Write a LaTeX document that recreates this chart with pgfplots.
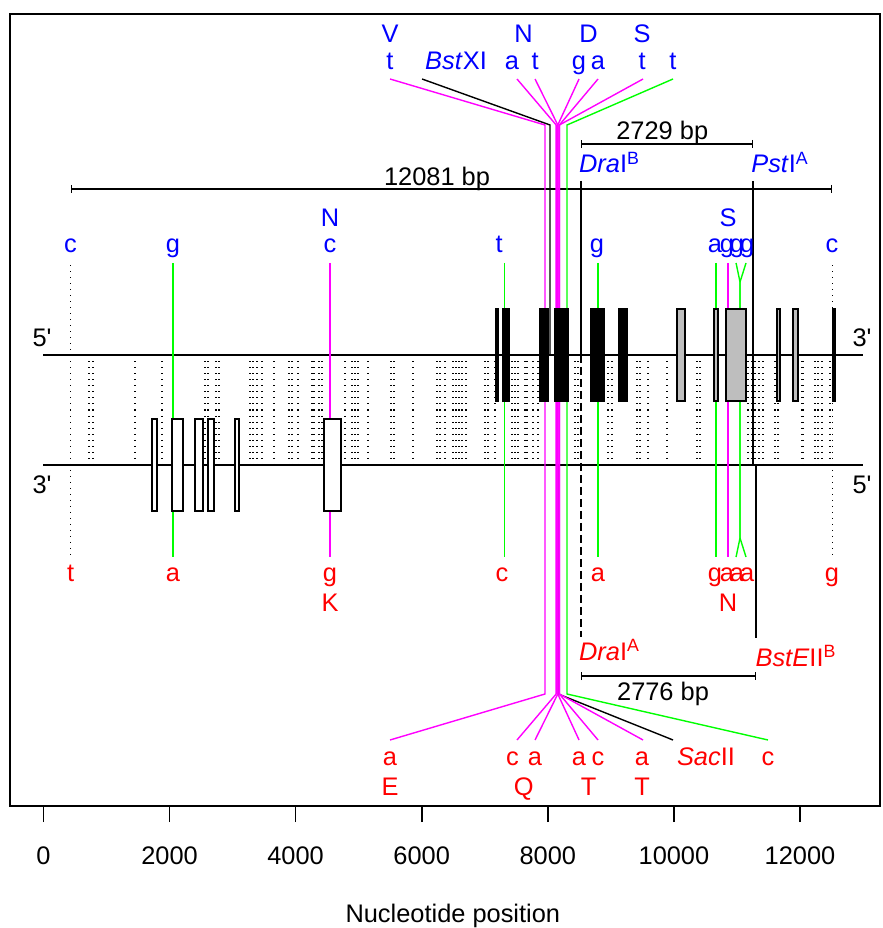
\documentclass[border=0pt]{standalone}
\usepackage{fontspec}
\setmainfont{Liberation Sans}[Ligatures=TeXOff]
\usepackage{pgfplots}
\pgfplotsset{compat=1.18}
\usetikzlibrary{arrows.meta,calc}
\definecolor{rgray}{RGB}{190,190,190}
\definecolor{rmag}{RGB}{255,0,255}
\definecolor{rgreen}{RGB}{0,255,0}
\definecolor{rblue}{RGB}{0,0,255}
\definecolor{rred}{RGB}{255,0,0}
\newcommand{\fs}{\fontsize{12.7}{15}\selectfont}

% box on a strand: x1, x2, ytop, ybottom, fill
\newcommand{\gbox}[5]{\addplot[black, line width=0.8pt, fill=#5] coordinates {(#1,#3) (#2,#3) (#2,#4) (#1,#4)} --cycle;}

\begin{document}
\begin{tikzpicture}[lab/.style={font=\fs, inner sep=0pt, anchor=base}]
\begin{axis}[
  scale only axis, width=435pt, height=396pt,
  xmin=-530, xmax=13268, ymin=-806, ymax=-14,
  axis line style={line width=0.8pt},
  xtick={0,2000,...,12000}, ytick=\empty,
  scaled x ticks=false,
  xtick pos=bottom, tick align=outside, major tick length=8pt,
  tick style={black, line width=0.8pt},
  /pgf/number format/assume math mode=true,
  /pgf/number format/1000 sep={},
  xticklabel style={font=\fs, anchor=base, yshift=-21pt},
  xlabel={Nucleotide position},
  xlabel style={font=\fs, at={(axis description cs:0.509,0)}, anchor=base, yshift=-58pt},
  clip=false,
]
% polymorphic sites between the strands
\addplot[draw=none, mark=none, error bars/.cd, y dir=both, y fixed=55, error mark=none,
  error bar style={draw=black, line width=0.6pt, dash pattern=on 0.6pt off 2.4pt}]
coordinates {
(723,-410) (787,-410) (1453,-410) (1881,-410) (2563,-410) (2611,-410) (2737,-410) (2785,-410)
(3277,-410) (3324,-410) (3388,-410) (3467,-410) (3657,-410) (3895,-410) (3943,-410) (4038,-410)
(4260,-410) (4292,-410) (4371,-410) (4419,-410) (4783,-410) (4894,-410) (4942,-410) (4990,-410)
(5148,-410) (5513,-410) (5561,-410) (5862,-410) (6243,-410) (6290,-410) (6369,-410) (6496,-410)
(6544,-410) (6591,-410) (6639,-410) (6702,-410) (7004,-410) (7051,-410) (7162,-410) (7432,-410)
(7480,-410) (7527,-410) (7638,-410) (7670,-410) (7765,-410) (7844,-410) (8431,-410) (8479,-410)
(8955,-410) (9018,-410) (9415,-410) (9462,-410) (9589,-410) (9890,-410) (10366,-410) (10414,-410)
(11175,-410) (11238,-410) (11286,-410) (11350,-410) (11413,-410) (11603,-410) (11651,-410)
(12031,-410) (12047,-410) (12238,-410) (12285,-410) (12349,-410) (12476,-410)
};
% long dotted sites
\addplot[draw=none, mark=none, error bars/.cd, y dir=both, y fixed=147, error mark=none,
  error bar style={draw=black, line width=0.6pt, dash pattern=on 0.6pt off 2.4pt}]
coordinates {(430,-410) (12510,-410)};

% strands
\addplot[black, line width=0.9pt] coordinates {(0,-355) (13000,-355)};
\addplot[black, line width=0.9pt] coordinates {(0,-465) (13000,-465)};

% single sites
\addplot[rgreen, line width=0.7pt] coordinates {(2055,-263) (2055,-557)};
\addplot[rmag, line width=0.7pt] coordinates {(4546,-263) (4546,-557)};
\addplot[rgreen, line width=0.7pt] coordinates {(7313,-263) (7313,-557)};
\addplot[rgreen, line width=0.7pt] coordinates {(8796,-263) (8796,-557)};
\addplot[rgreen, line width=0.7pt] coordinates {(10668,-263) (10668,-557)};
\addplot[rmag, line width=0.7pt] coordinates {(10858,-263) (10858,-557)};
\addplot[rgreen, line width=0.7pt] coordinates {(10985,-263) (11048,-282) (11048,-538) (10985,-557)};
\addplot[rgreen, line width=0.7pt] coordinates {(11143,-263) (11048,-282) (11048,-538) (11143,-557)};

% restriction sites and spans
\addplot[black, line width=0.7pt] coordinates {(8526,-181) (8526,-355)};
\addplot[black, line width=0.7pt, dash pattern=on 4pt off 2pt] coordinates {(8526,-355) (8526,-637)};
\addplot[black, line width=0.7pt] coordinates {(11254,-181) (11254,-465)};
\addplot[black, line width=0.7pt] coordinates {(11302,-465) (11302,-638)};
\addplot[black, line width=0.7pt, {Bar[width=4pt]}-{Bar[width=4pt]}] coordinates {(430,-189) (12510,-189)};
\addplot[black, line width=0.7pt, {Bar[width=4pt]}-{Bar[width=4pt]}] coordinates {(8526,-144) (11254,-144)};
\addplot[black, line width=0.7pt, {Bar[width=4pt]}-{Bar[width=4pt]}] coordinates {(8526,-676) (11302,-676)};

% central cluster
\addplot[black, line width=0.7pt] coordinates {(8165,-465) (8165,-694) (9985,-740)};
\addplot[black, line width=0.7pt] coordinates {(6005,-79) (8035,-125) (8035,-355)};
\addplot[rmag, line width=0.7pt] coordinates {(5497,-79) (7955,-125) (7955,-694) (5497,-740)};
\addplot[rmag, line width=0.7pt] coordinates {(7511,-79) (8132,-125) (8132,-694) (7511,-740)};
\addplot[rmag, line width=0.7pt] coordinates {(7797,-79) (8158,-125) (8158,-694) (7797,-740)};
\addplot[rmag, line width=0.7pt] coordinates {(8495,-79) (8158,-125) (8158,-694) (8495,-740)};
\addplot[rmag, line width=0.7pt] coordinates {(8796,-79) (8183,-125) (8183,-694) (8796,-740)};
\addplot[rmag, line width=0.7pt] coordinates {(9510,-79) (8183,-125) (8183,-694) (9510,-740)};
\addplot[rgreen, line width=0.7pt] coordinates {(9985,-79) (8304,-125) (8304,-694) (11492,-740)};

% genes, reverse strand
\gbox{1721}{1800}{-419}{-511}{white}
\gbox{2040}{2214}{-419}{-511}{white}
\gbox{2404}{2531}{-419}{-511}{white}
\gbox{2611}{2706}{-419}{-511}{white}
\gbox{3039}{3102}{-419}{-511}{white}
\gbox{4450}{4720}{-419}{-511}{white}
% genes, forward strand
\gbox{7178}{7210}{-309}{-401}{white}
\gbox{7289}{7384}{-309}{-401}{black}
\gbox{7876}{8003}{-309}{-401}{black}
\gbox{8114}{8321}{-309}{-401}{black}
\gbox{8685}{8891}{-309}{-401}{black}
\gbox{9129}{9256}{-309}{-401}{black}
\gbox{10049}{10176}{-309}{-401}{rgray}
\gbox{10636}{10700}{-309}{-401}{rgray}
\gbox{10827}{11144}{-309}{-401}{rgray}
\gbox{11636}{11683}{-309}{-401}{rgray}
\gbox{11889}{11968}{-309}{-401}{rgray}
\gbox{12523}{12554}{-309}{-401}{black}

% strand ends
\node[lab] at (axis cs:-22,-347) {5'};
\node[lab] at (axis cs:-22,-493) {3'};
\node[lab] at (axis cs:12983,-347) {3'};
\node[lab] at (axis cs:12983,-493) {5'};

% top labels
\node[lab, rblue] at (axis cs:5497,-43) {V};
\node[lab, rblue] at (axis cs:7616,-43) {N};
\node[lab, rblue] at (axis cs:8645,-43) {D};
\node[lab, rblue] at (axis cs:9494,-43) {S};
\node[lab, rblue] at (axis cs:5497,-70) {t};
\node[lab, rblue] at (axis cs:6544,-70) {\textit{Bst}XI};
\node[lab, rblue] at (axis cs:7432,-70) {a};
\node[lab, rblue] at (axis cs:7797,-70) {t};
\node[lab, rblue] at (axis cs:8495,-70) {g};
\node[lab, rblue] at (axis cs:8796,-70) {a};
\node[lab, rblue] at (axis cs:9494,-70) {t};
\node[lab, rblue] at (axis cs:9985,-70) {t};

\node[lab, rblue] at (axis cs:4546,-227) {N};
\node[lab, rblue] at (axis cs:10858,-227) {S};
\node[lab, rblue] at (axis cs:430,-253) {c};
\node[lab, rblue] at (axis cs:2055,-253) {g};
\node[lab, rblue] at (axis cs:4546,-253) {c};
\node[lab, rblue] at (axis cs:7226,-253) {t};
\node[lab, rblue] at (axis cs:8780,-253) {g};
\node[lab, rblue] at (axis cs:10650,-253) {a};
\node[lab, rblue] at (axis cs:10840,-253) {g};
\node[lab, rblue] at (axis cs:11000,-253) {g};
\node[lab, rblue] at (axis cs:11160,-253) {g};
\node[lab, rblue] at (axis cs:12507,-253) {c};

\node[lab, rblue] at (axis cs:8978,-173) {\textit{Dra}I\textsuperscript{B}};
\node[lab, rblue] at (axis cs:11683,-173) {\textit{Pst}I\textsuperscript{A}};
\node[lab] at (axis cs:9815,-140) {2729 bp};
\node[lab] at (axis cs:6243,-186) {12081 bp};

% bottom labels
\node[lab, rred] at (axis cs:430,-582) {t};
\node[lab, rred] at (axis cs:2055,-582) {a};
\node[lab, rred] at (axis cs:4546,-582) {g};
\node[lab, rred] at (axis cs:7273,-582) {c};
\node[lab, rred] at (axis cs:8796,-582) {a};
\node[lab, rred] at (axis cs:10650,-582) {g};
\node[lab, rred] at (axis cs:10840,-582) {a};
\node[lab, rred] at (axis cs:11000,-582) {a};
\node[lab, rred] at (axis cs:11160,-582) {a};
\node[lab, rred] at (axis cs:12507,-582) {g};
\node[lab, rred] at (axis cs:4546,-612) {K};
\node[lab, rred] at (axis cs:10858,-612) {N};

\node[lab, rred] at (axis cs:8978,-660) {\textit{Dra}I\textsuperscript{A}};
\node[lab, rred] at (axis cs:11936,-666) {\textit{BstE}II\textsuperscript{B}};
\node[lab] at (axis cs:9827,-701) {2776 bp};

\node[lab, rred] at (axis cs:5497,-765) {a};
\node[lab, rred] at (axis cs:7441,-765) {c};
\node[lab, rred] at (axis cs:7797,-765) {a};
\node[lab, rred] at (axis cs:8495,-765) {a};
\node[lab, rred] at (axis cs:8796,-765) {c};
\node[lab, rred] at (axis cs:9494,-765) {a};
\node[lab, rred] at (axis cs:10508,-765) {\textit{Sac}II};
\node[lab, rred] at (axis cs:11492,-765) {c};
\node[lab, rred] at (axis cs:5497,-795) {E};
\node[lab, rred] at (axis cs:7616,-795) {Q};
\node[lab, rred] at (axis cs:8645,-795) {T};
\node[lab, rred] at (axis cs:9494,-795) {T};
\end{axis}
\pgfresetboundingbox
\path[use as bounding box] ($(current axis.south west)+(-5pt,-61pt)$) rectangle ($(current axis.north east)+(1.5pt,7pt)$);
\end{tikzpicture}
\end{document}
